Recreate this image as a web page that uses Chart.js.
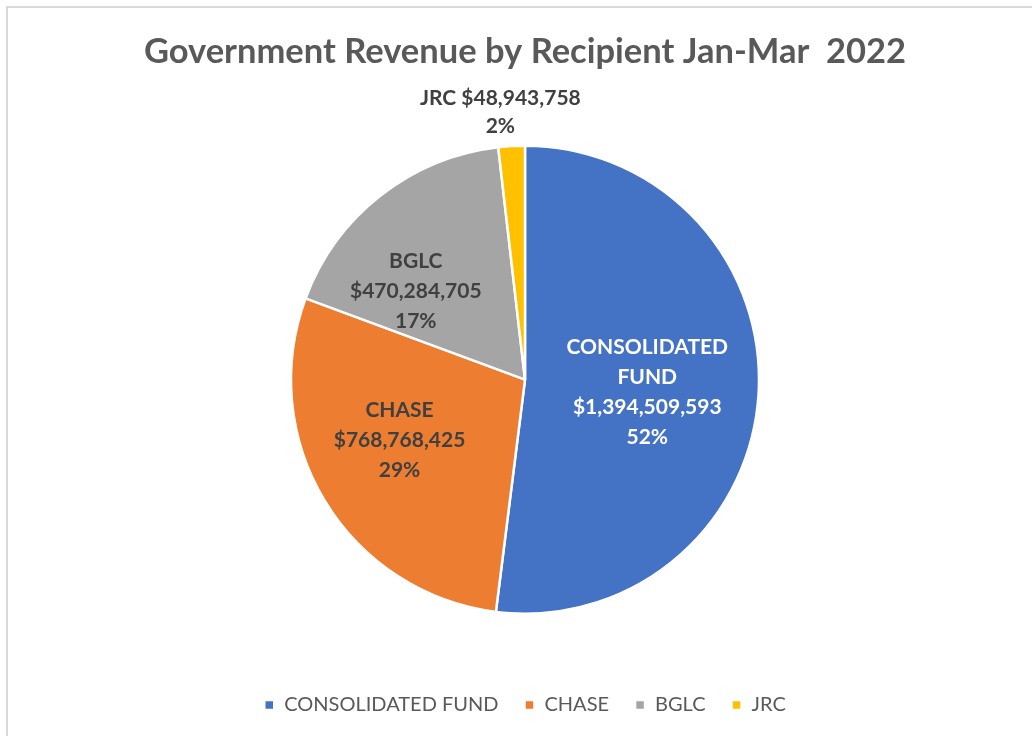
<!DOCTYPE html>
<html>
<head>
<meta charset="utf-8">
<script src="https://cdn.jsdelivr.net/npm/chart.js@4"></script>
<style>
  html, body { margin: 0; padding: 0; background: #ffffff; }
  #wrap { width: 1032px; height: 736px; }
</style>
</head>
<body>
<div id="wrap"><canvas id="c" width="1032" height="736"></canvas></div>
<script>
const categories = ['CONSOLIDATED FUND', 'CHASE', 'BGLC', 'JRC'];
const revenue = [1394509593, 768768425, 470284705, 48943758];
const percentLabels = ['52%', '29%', '17%', '2%'];
const sliceColors = ['#4472C4', '#ED7D31', '#A5A5A5', '#FFC000'];
const titleText = 'Government Revenue by Recipient Jan-Mar  2022';

// label placement style: t = fraction along slice angle, f = fraction of radius (or extra px outside)
const labelStyle = [
  { t: 0.511, f: 0.525, color: '#FFFFFF', lines: ['CONSOLIDATED', 'FUND'] },
  { t: 0.554, f: 0.595, color: '#404040', lines: ['CHASE'] },
  { t: 0.295, f: 0.60, color: '#404040', lines: ['BGLC'] },
  { t: 0.2, outside: 35, color: '#404040', lines: [], lh: 28 }
];

const fmtMoney = v => '$' + v.toLocaleString('en-US');

const frame = {
  id: 'frame',
  beforeDraw(chart) {
    const ctx = chart.ctx;
    ctx.save();
    ctx.fillStyle = '#ffffff';
    ctx.fillRect(0, 0, chart.width, chart.height);
    ctx.strokeStyle = '#D9D9D9';
    ctx.lineWidth = 2;
    ctx.strokeRect(7, 7, 1200, 1000);
    ctx.restore();
  }
};

const sliceLabels = {
  id: 'sliceLabels',
  afterDatasetsDraw(chart) {
    const ctx = chart.ctx;
    const meta = chart.getDatasetMeta(0);
    const data = chart.data.datasets[0].data;
    ctx.save();
    ctx.font = 'bold 21px Lato';
    ctx.textAlign = 'center';
    ctx.textBaseline = 'middle';
    meta.data.forEach((arc, i) => {
      const st = labelStyle[i];
      const p = arc.getProps(['x', 'y', 'startAngle', 'endAngle', 'outerRadius']);
      const ang = p.startAngle + (p.endAngle - p.startAngle) * st.t;
      const r = st.outside ? p.outerRadius + st.outside : p.outerRadius * st.f;
      const cx = p.x + Math.cos(ang) * r;
      const cy = p.y + Math.sin(ang) * r;
      const pct = percentLabels[i];
      let lines;
      if (st.outside) {
        lines = [chart.data.labels[i] + ' ' + fmtMoney(data[i]), pct];
      } else {
        lines = st.lines.concat([fmtMoney(data[i]), pct]);
      }
      const lh = st.lh || 30;
      const y0 = cy - (lines.length - 1) * lh / 2;
      ctx.fillStyle = st.color;
      lines.forEach((ln, k) => ctx.fillText(ln, cx, y0 + k * lh));
    });
    ctx.restore();
  }
};

new Chart(document.getElementById('c'), {
  type: 'pie',
  data: {
    labels: categories,
    datasets: [{
      data: revenue,
      backgroundColor: sliceColors,
      borderColor: '#FFFFFF',
      borderWidth: 2.5,
      radius: 234
    }]
  },
  options: {
    responsive: false,
    animation: false,
    layout: { padding: { left: 18, right: 0, top: 0, bottom: 11 } },
    plugins: {
      title: {
        display: true,
        text: titleText,
        color: '#595959',
        font: { family: 'Lato', size: 34.5, weight: 'bold' },
        padding: { top: 31, bottom: 18 }
      },
      legend: {
        display: true,
        position: 'bottom',
        labels: {
          color: '#595959',
          font: { family: 'Lato', size: 20 },
          boxWidth: 10,
          boxHeight: 10,
          padding: 26
        }
      },
      tooltip: { enabled: false }
    }
  },
  plugins: [frame, sliceLabels]
});
</script>
</body>
</html>
